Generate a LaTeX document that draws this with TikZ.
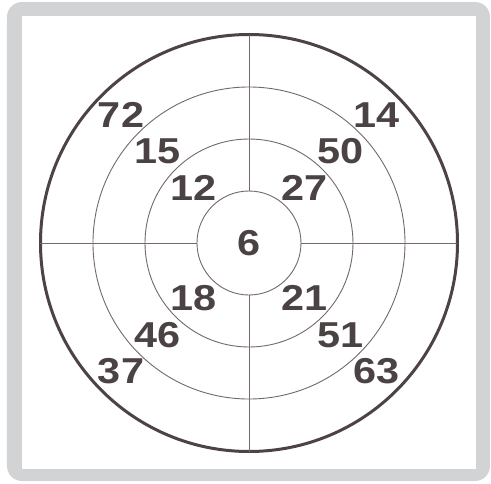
\documentclass[tikz,border=0pt]{standalone}
\usepackage{fontspec}
\usepackage{tikz}
\usetikzlibrary{backgrounds}
\newfontfamily\ringfont[FakeStretch=1.15]{Liberation Sans}
\definecolor{frameGray}{HTML}{D1D3D4}
\definecolor{rimInk}{HTML}{4D4345}
\definecolor{ringLine}{HTML}{75686A}
\definecolor{numInk}{HTML}{4B4244}
\tikzset{
  % --- target rings --------------------------------------------------------
  ring/.style     = {circle, draw=ringLine, line width=0.9pt, inner sep=0pt,
                     outer sep=0pt},
  rim/.style      = {circle, draw=rimInk, line width=3pt, inner sep=0pt,
                     outer sep=0pt},
  crossline/.style= {draw=ringLine, line width=0.9pt},
  % --- labels --------------------------------------------------------------
  score/.style    = {text=numInk, inner sep=0pt,
                     font=\ringfont\bfseries\fontsize{36}{40}\selectfont},
}
\begin{document}
\begin{tikzpicture}[x=1pt,y=1pt]
\useasboundingbox (-249,-240) rectangle (242,243);

% ============================== frame =======================================
\fill[frameGray, rounded corners=15pt] (-242,-238) rectangle (241,241);
\fill[white] (-227,-226) rectangle (227,227);

% ============================== rings =======================================
\node[ring, minimum size=104pt] (core)  at (0,0) {};
\node[ring, minimum size=208pt] (mid)   at (0,0) {};
\node[ring, minimum size=312pt] (outer) at (0,0) {};
\node[rim,  minimum size=417pt] (edge)  at (0,0) {};

% the cross, from the bull's eye out to the rim
\foreach \a in {north,south,east,west}{ \draw[crossline] (core.\a) -- (edge.\a); }

% ============================== scores ======================================
\node[score] (bull) at (0,0) {6};

\node[score] (s12) at (135:78) {12};
\node[score] (s27) at (45:78)  {27};
\node[score] (s18) at (225:78) {18};
\node[score] (s21) at (315:78) {21};

\node[score] (s15) at (135:130) {15};
\node[score] (s50) at (45:130)  {50};
\node[score] (s46) at (225:130) {46};
\node[score] (s51) at (315:130) {51};

\node[score] (s72) at (135:181) {72};
\node[score] (s14) at (45:181)  {14};
\node[score] (s37) at (225:181) {37};
\node[score] (s63) at (315:181) {63};

\end{tikzpicture}
\end{document}
